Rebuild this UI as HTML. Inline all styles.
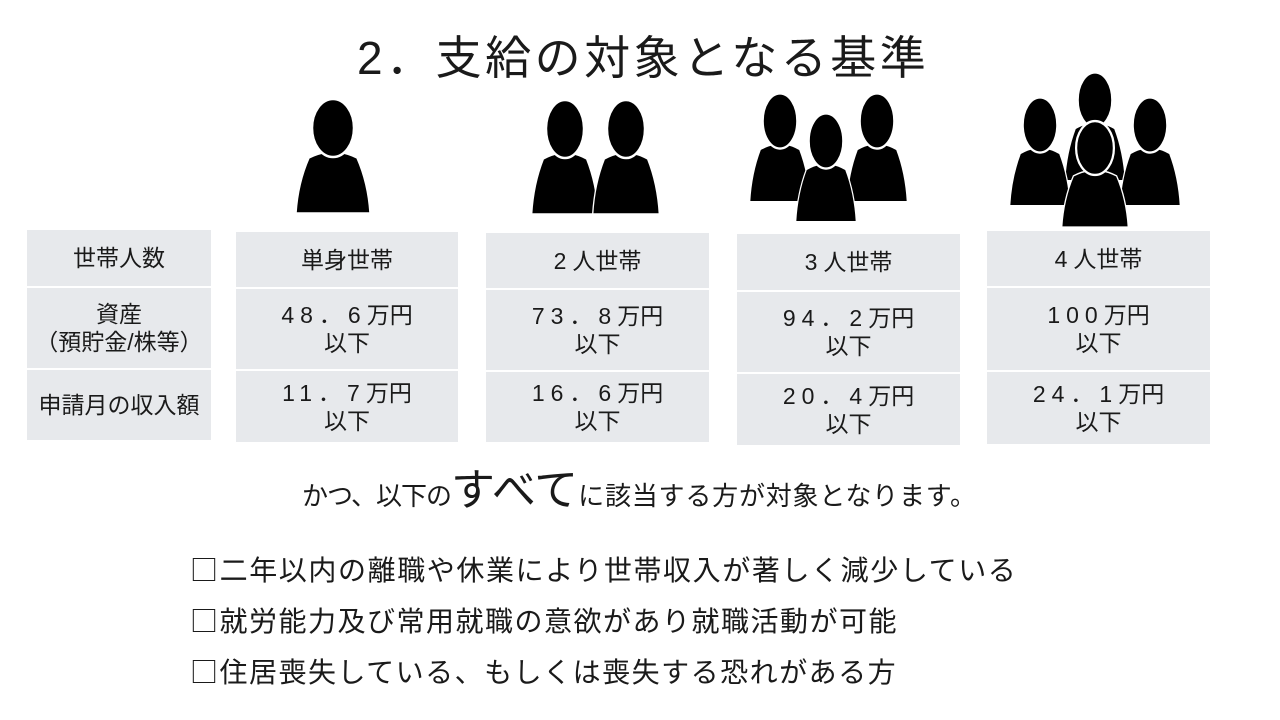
<!DOCTYPE html>
<html><head><meta charset="utf-8"><style>
body{margin:0;width:1280px;height:720px;background:#fff;position:relative;overflow:hidden;font-family:"Liberation Sans","Noto Sans CJK JP",sans-serif;color:#1a1a1a}
.a{position:absolute;white-space:nowrap}
.cell{position:absolute;background:#e7e9ec;display:flex;align-items:center;justify-content:center;text-align:center;font-size:23px;line-height:28px}
.num{letter-spacing:6px}
.bx{font-family:"Noto Sans CJK JP",sans-serif}
</style></head><body>
<div class="a" style="left:357px;top:22px;font-size:46px;letter-spacing:3.5px">2．支給の対象となる基準</div>
<svg class="a" style="left:0;top:0" width="1280" height="230">
<defs>
<g id="p"><path d="M-24 30 Q-14 25 -8 25 L8 25 Q14 25 24 30 Q35 55 37 85 L-37 85 Q-35 55 -24 30 Z" fill="#000" stroke="#fff" stroke-width="1.5"/><ellipse cx="0" cy="0" rx="21" ry="29" fill="#000" stroke="#fff" stroke-width="2.5"/></g>
</defs>
<use href="#p" transform="translate(333,128)"/>
<use href="#p" transform="translate(565,129) scale(0.9,1)"/>
<use href="#p" transform="translate(626,129) scale(0.9,1)"/>
<use href="#p" transform="translate(780,121) scale(0.82,0.95)"/>
<use href="#p" transform="translate(877,121) scale(0.82,0.95)"/>
<use href="#p" transform="translate(826,141) scale(0.82,0.95)"/>
<use href="#p" transform="translate(1095,100) scale(0.82,0.95)"/>
<use href="#p" transform="translate(1040,125) scale(0.82,0.95)"/>
<use href="#p" transform="translate(1150,125) scale(0.82,0.95)"/>
<use href="#p" transform="translate(1095,148) scale(0.9,0.93)"/>
</svg>

<div class="cell" style="left:27px;top:230px;width:184px;height:56px">世帯人数</div>
<div class="cell" style="left:27px;top:288px;width:184px;height:80px">資産<br>（預貯金/株等）</div>
<div class="cell" style="left:27px;top:370px;width:184px;height:70px">申請月の収入額</div>

<div class="cell" style="left:236px;top:232px;width:222px;height:55px">単身世帯</div>
<div class="cell" style="left:236px;top:289px;width:222px;height:80px"><div><span class="num">48．6</span>万円<br>以下</div></div>
<div class="cell" style="left:236px;top:371px;width:222px;height:71px"><div><span class="num">11．7</span>万円<br>以下</div></div>

<div class="cell" style="left:486px;top:233px;width:223px;height:55px"><div><span class="num">2</span>人世帯</div></div>
<div class="cell" style="left:486px;top:290px;width:223px;height:80px"><div><span class="num">73．8</span>万円<br>以下</div></div>
<div class="cell" style="left:486px;top:372px;width:223px;height:70px"><div><span class="num">16．6</span>万円<br>以下</div></div>

<div class="cell" style="left:737px;top:234px;width:223px;height:56px"><div><span class="num">3</span>人世帯</div></div>
<div class="cell" style="left:737px;top:292px;width:223px;height:80px"><div><span class="num">94．2</span>万円<br>以下</div></div>
<div class="cell" style="left:737px;top:374px;width:223px;height:71px"><div><span class="num">20．4</span>万円<br>以下</div></div>

<div class="cell" style="left:987px;top:231px;width:223px;height:55px"><div><span class="num">4</span>人世帯</div></div>
<div class="cell" style="left:987px;top:288px;width:223px;height:82px"><div><span class="num">100</span>万円<br>以下</div></div>
<div class="cell" style="left:987px;top:372px;width:223px;height:72px"><div><span class="num">24．1</span>万円<br>以下</div></div>

<div class="a" style="left:302px;top:464px;font-size:26px;line-height:54px"><span style="letter-spacing:-1px">かつ、以下の</span><span style="font-size:44px">すべて</span><span style="letter-spacing:0.8px">に該当する方が対象となります。</span></div>

<div class="a" style="left:190px;top:549px;font-size:28px;letter-spacing:1.6px"><span class="bx">□</span>二年以内の離職や休業により世帯収入が著しく減少している</div>
<div class="a" style="left:190px;top:600px;font-size:28px;letter-spacing:1.5px"><span class="bx">□</span>就労能力及び常用就職の意欲があり就職活動が可能</div>
<div class="a" style="left:190px;top:651px;font-size:28px;letter-spacing:1.5px"><span class="bx">□</span>住居喪失している、もしくは喪失する恐れがある方</div>
</body></html>
